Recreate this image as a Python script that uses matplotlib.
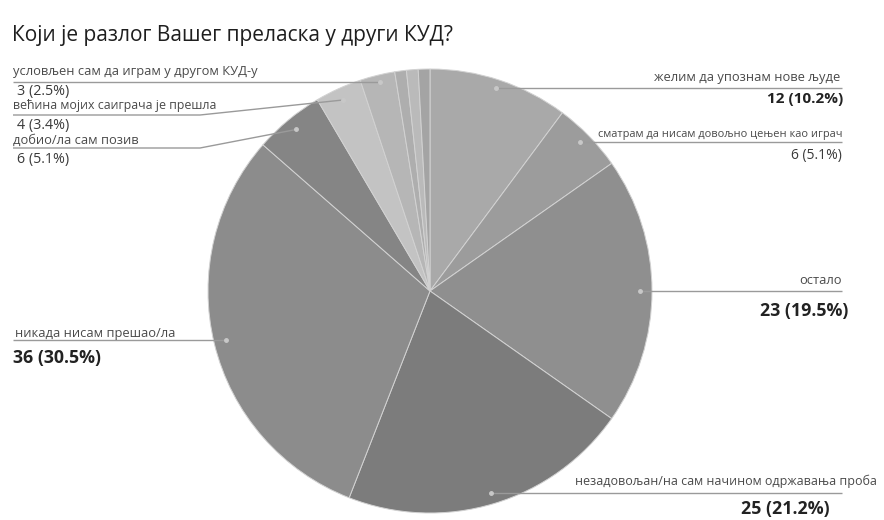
import numpy as np
import matplotlib.pyplot as plt

plt.rcParams['font.family'] = ['Open Sans', 'DejaVu Sans']

title = 'Који је разлог Вашег преласка у други КУД?'
labels = ['желим да упознам нове људе',
          'сматрам да нисам довољно цењен као играч',
          'остало',
          'незадовољан/на сам начином одржавања проба',
          'никада нисам прешао/ла',
          'добио/ла сам позив',
          'већина мојих саиграча је прешла',
          'условљен сам да играм у другом КУД-у',
          '', '', '']
counts = [12, 6, 23, 25, 36, 6, 4, 3, 1, 1, 1]
shades = ['#a9a9a9', '#9c9c9c', '#8f8f8f', '#7c7c7c', '#8c8c8c', '#858585',
          '#c3c3c3', '#b6b6b6', '#aeaeae', '#bababa', '#a4a4a4']
label_size = [9.3, 7.9, 9.3, 9.0, 9.3, 9.3, 8.9, 9.3]
value_size = [11, 10, 12.8, 12.8, 12.8, 10.3, 10.3, 10.3]
value_bold = [True, False, True, True, True, False, False, False]

# placement: side, label x, label y, leader y, value x, value y, bend x
layout = [
    ('r', 840, 78, 88, 843, 99, None),
    ('r', 842, 135, 142, 842, 155, None),
    ('r', 842, 281, 291, 848, 311, None),
    ('r', 877, 481, 493, 830, 509, None),
    ('l', 15, 333, 340, 13, 358, None),
    ('l', 13, 140, 148, 17, 160, 200),
    ('l', 13, 105, 115, 17, 125, 200),
    ('l', 13, 72, 82, 17, 91, None),
]
line_end = {'r': 842, 'l': 13}

total = sum(counts)
cx, cy, R = 430, 291, 222

fig = plt.figure(figsize=(8.84, 5.2), dpi=100)
ax = fig.add_axes([0, 0, 1, 1])
wedges, _ = ax.pie(counts, colors=shades, startangle=-90, counterclock=True,
                   center=(cx, cy), radius=R,
                   wedgeprops=dict(edgecolor='#d2d2d2', linewidth=0.7))
ax.set_xlim(0, 884)
ax.set_ylim(520, 0)
ax.set_aspect('equal')
ax.axis('off')

ax.text(12, 35, title, fontsize=15, color='#1e1e1e', va='center', ha='left')

for i, (side, tx, ty, ly, vx, vy, bend) in enumerate(layout):
    w = wedges[i]
    mid = np.deg2rad((w.theta1 + w.theta2) / 2)
    dx = cx + 0.945 * R * np.cos(mid)
    dy = cy + 0.945 * R * np.sin(mid)
    value = f'{counts[i]} ({counts[i] / total * 100:.1f}%)'
    ha = 'right' if side == 'r' else 'left'
    ex = line_end[side]
    if bend is not None:
        pts = [(ex, ly), (bend, ly), (dx, dy)]
    elif abs(dy - ly) < 7:
        pts = [(ex, ly), (dx, ly)]
    else:
        pts = [(ex, ly), (dx, dy)]
    xs, ys = zip(*pts)
    ax.plot(xs, ys, color='#9a9a9a', lw=1.0, solid_capstyle='butt')
    ax.plot(xs[-1], ys[-1], 'o', ms=2.5, color='#c8c8c8')
    ax.text(tx, ty, labels[i], fontsize=label_size[i], color='#4a4a4a',
            ha=ha, va='center')
    ax.text(vx, vy, value, fontsize=value_size[i],
            fontweight='bold' if value_bold[i] else 'normal',
            color='#222222' if value_bold[i] else '#3a3a3a', ha=ha, va='center')

fig.savefig('out.png', dpi=100, facecolor='white')
